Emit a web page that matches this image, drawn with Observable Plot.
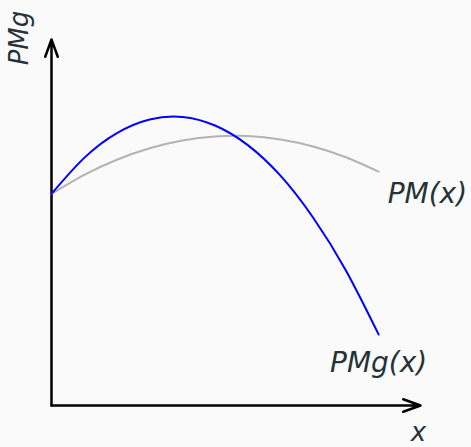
<!DOCTYPE html>
<html><head><meta charset="utf-8">
<script src="https://cdn.jsdelivr.net/npm/d3@7"></script>
<script src="https://cdn.jsdelivr.net/npm/@observablehq/plot@0.6"></script>
<style>html,body{margin:0;padding:0;background:#fafafa;overflow:hidden;}</style>
</head><body><div id="chart"></div>
<script>
// PMg(x) curve (blue)
const pmgX = [0, 1, 2, 3, 4, 5, 6, 7, 8, 9, 10];
const pmgY = [10.58, 12.38, 13.62, 14.30, 14.43, 14.00, 13.02, 11.49, 9.39, 6.75, 3.55];
// PM(x) curve (gray)
const pmX = [0, 1, 2, 3, 4, 5, 6, 7, 8, 9, 10];
const pmY = [10.58, 11.53, 12.29, 12.86, 13.25, 13.45, 13.47, 13.30, 12.95, 12.41, 11.69];
// axis extents (x, y)
const axisMax = [11.28, 18.3];
// labels
const curveLabels = ["PM(x)", "PMg(x)"];
const xLabel = "x";
const yLabel = "PMg";

const pmg = pmgX.map((x, i) => ({x, y: pmgY[i]}));
const pm = pmX.map((x, i) => ({x, y: pmY[i]}));
const textColor = "#263238";
const font = {fontFamily: "DejaVu Sans", fontStyle: "italic", fontSize: 28, fill: textColor};
const arrowStyle = {x1: "x1", y1: "y1", x2: "x2", y2: "y2", stroke: "black", strokeWidth: 2.5, headLength: 11, headAngle: 40, inset: 0};

const chart = Plot.plot({
  width: 471, height: 447,
  marginLeft: 51, marginRight: 51, marginTop: 39, marginBottom: 42,
  style: {background: "#fafafa", overflow: "visible"},
  x: {domain: [0, axisMax[0]], axis: null},
  y: {domain: [0, axisMax[1]], axis: null},
  marks: [
    Plot.arrow([{x1: 0, y1: 0, x2: axisMax[0], y2: 0}], arrowStyle),
    Plot.arrow([{x1: 0, y1: 0, x2: 0, y2: axisMax[1]}], arrowStyle),
    Plot.line(pm, {x: "x", y: "y", stroke: "#b3b3b3", strokeWidth: 2, curve: "natural"}),
    Plot.line(pmg, {x: "x", y: "y", stroke: "blue", strokeWidth: 2, curve: "natural"}),
    Plot.text([pm[pm.length - 1]], {x: "x", y: "y", text: () => curveLabels[0], textAnchor: "start", dx: 9, dy: 22, ...font}),
    Plot.text([pmg[pmg.length - 1]], {x: "x", y: "y", text: () => curveLabels[1], textAnchor: "middle", dx: 0, dy: 29, ...font}),
    Plot.text([{x: axisMax[0], y: 0}], {x: "x", y: "y", text: () => xLabel, textAnchor: "middle", dx: -2, dy: 27, ...font, fontSize: 26}),
    Plot.text([{x: 0, y: axisMax[1]}], {x: "x", y: "y", text: () => yLabel, textAnchor: "middle", rotate: -90, dx: -32, dy: -1.5, ...font, fontSize: 26})
  ]
});
document.getElementById("chart").append(chart);
</script>
</body></html>
